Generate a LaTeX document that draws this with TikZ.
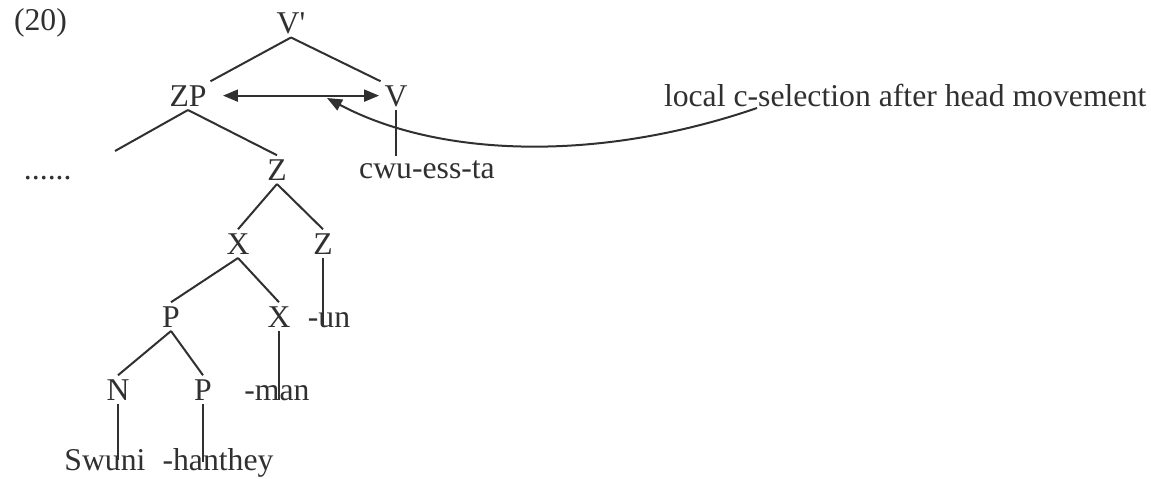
\documentclass[tikz,border=0pt]{standalone}
\usepackage{fontspec}
\setmainfont{Liberation Serif}[Ligatures=TeXOff]
\usetikzlibrary{arrows.meta}
\definecolor{ink}{HTML}{303030}

\begin{document}
\begin{tikzpicture}[x=.5pt, y=-.5pt, draw=ink, line width=1pt,
    >={Triangle[length=7.5pt,width=6pt]},
    word/.style={inner sep=1.5pt, text=ink, font=\fontsize{15.85}{19}\selectfont}]
    \useasboundingbox (0,0) rectangle (1151,478);
    % labels
    \node[word, anchor=base west] (num) at (10,30) {(20)};
    \node[word, anchor=base] (vbar) at (291,33) {V'};
    \node[word, anchor=base] (zp) at (188,106) {ZP};
    \node[word, anchor=base] (v) at (396,106) {V};
    \node[word, anchor=base west] (sel) at (660,106) {local c-selection after head movement};
    \node[word, anchor=base west] (dots) at (20,179) {......};
    \node[word, anchor=base] (z) at (277,180) {Z};
    \node[word, anchor=base] (cwu) at (427,178) {cwu-ess-ta};
    \node[word, anchor=base] (x) at (238,254) {X};
    \node[word, anchor=base] (zz) at (323,254) {Z};
    \node[word, anchor=base] (p) at (171,327) {P};
    \node[word, anchor=base] (xx) at (279,327) {X};
    \node[word, anchor=base] (un) at (329,327) {-un};
    \node[word, anchor=base] (n) at (118,400) {N};
    \node[word, anchor=base] (pp) at (203,400) {P};
    \node[word, anchor=base] (man) at (277,400) {-man};
    \node[word, anchor=base] (swuni) at (105,470) {Swuni};
    \node[word, anchor=base] (hanthey) at (218,470) {-hanthey};
    \coordinate (dl) at (115,151);
    % branches
    \foreach \a/\b in {vbar.south/zp.north east, vbar.south/v.north west,
                       zp.south/dl, zp.south/z.north, z.south/x.north, z.south/zz.north,
                       x.south/p.north, x.south/xx.north, p.south/n.north, p.south/pp.north}
      \draw (\a) -- (\b);
    \draw (v.south) -- (v.south |- cwu.north);
    \draw (zz.south) -- (zz.south |- un.base);
    \draw (xx.south) -- (xx.south |- man.base);
    \draw (n.south) -- (n.south |- swuni.center);
    \draw (pp.south) -- (pp.south |- hanthey.center);
    % selection arrows
    \draw[<->, shorten <=6.25pt, shorten >=.75pt] (zp.east) -- (zp.east -| v.west);
    \coordinate (tail) at (757,108);
    \coordinate (tip) at (327,98);
    \draw[->] (tail) .. controls (600,162) and (440,158) .. (tip);
\end{tikzpicture}
\end{document}
